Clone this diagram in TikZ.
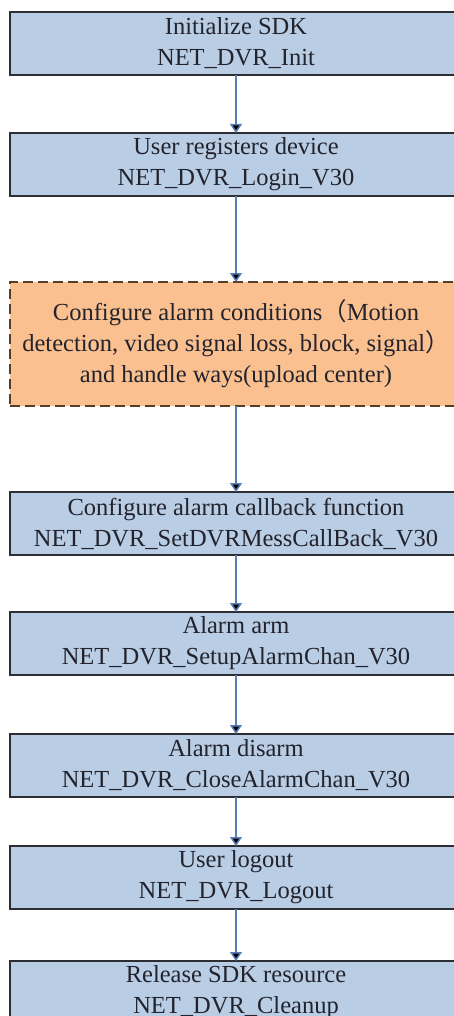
\documentclass[tikz,border=0pt]{standalone}
\usepackage{fontspec}
\setmainfont{Liberation Serif}
\newfontfamily\cjk{Noto Sans CJK SC}
\usetikzlibrary{positioning,arrows.meta}
\definecolor{boxblue}{RGB}{185,205,229}
\definecolor{arrowblue}{RGB}{88,124,182}
\definecolor{cfgorange}{RGB}{250,192,143}
\definecolor{boxline}{RGB}{45,45,50}
\definecolor{cfgline}{RGB}{85,62,40}
\definecolor{txt}{RGB}{35,35,45}
\tikzset{
  stepbox/.style={draw=boxline, fill=boxblue, line width=1.6pt, text=txt,
    minimum width=452pt, minimum height=63pt, inner sep=0pt, outer sep=0pt,
    align=center, font=\fontsize{24.5}{31}\selectfont},
  cfgbox/.style={stepbox, draw=cfgline, fill=cfgorange, line width=2.4pt,
    dash pattern=on 10pt off 5pt, minimum height=124pt},
  flowarrow/.style={-{Triangle[width=12pt,length=9pt]}, draw=arrowblue, line width=1.5pt}
}
\begin{document}
\begin{tikzpicture}
	\clip (0,0) rectangle (454pt,-1016pt);
	\node[stepbox] (init) at (236pt,-43.5pt) {Initialize SDK\\NET\_DVR\_Init};
	\node[stepbox, below=58pt of init] (login) {User registers device\\NET\_DVR\_Login\_V30};
	\node[cfgbox, below=86pt of login] (cfg) {Configure alarm conditions{\cjk （}Motion\\detection, video signal loss, block, signal{\cjk ）}\\and handle ways(upload center)};
	\node[stepbox, below=86pt of cfg] (callback) {Configure alarm callback function\\NET\_DVR\_SetDVRMessCallBack\_V30};
	\node[stepbox, below=57pt of callback] (arm) {Alarm arm\\NET\_DVR\_SetupAlarmChan\_V30};
	\node[stepbox, below=59pt of arm] (disarm) {Alarm disarm\\NET\_DVR\_CloseAlarmChan\_V30};
	\node[stepbox, below=49pt of disarm] (logout) {User logout\\NET\_DVR\_Logout};
	\node[stepbox, below=52pt of logout] (cleanup) {Release SDK resource\\NET\_DVR\_Cleanup};
	\path[flowarrow]
	(init) edge (login)
	(login) edge (cfg)
	(cfg) edge (callback)
	(callback) edge (arm)
	(arm) edge (disarm)
	(disarm) edge (logout)
	(logout) edge (cleanup);
\end{tikzpicture}
\end{document}
